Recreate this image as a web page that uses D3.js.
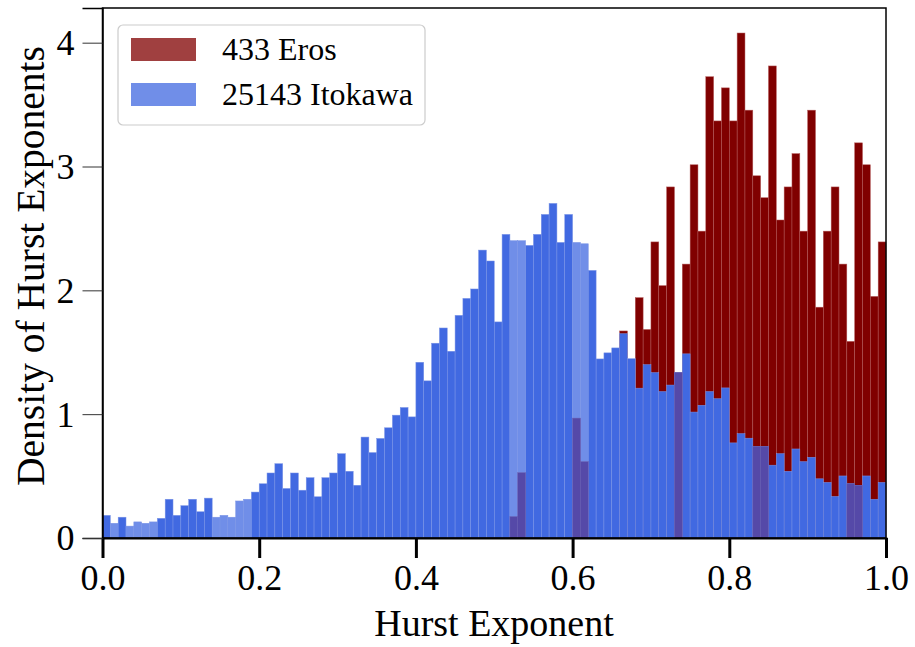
<!DOCTYPE html>
<html>
<head>
<meta charset="utf-8">
<script src="https://cdn.jsdelivr.net/npm/d3@7"></script>
<style>
  body { margin: 0; background: #fff; }
  text { font-family: "Liberation Serif", "Times New Roman", serif; }
</style>
</head>
<body>
<svg id="chart" width="915" height="647"></svg>
<script>
// bin edges: 100 bins of width 0.01 on [0, 1]
const binWidth = 0.01;

// density of Hurst exponents, 25143 Itokawa (bins 0..99)
const itokawa = [
  0.183, 0.119, 0.168, 0.096, 0.130, 0.119, 0.130, 0.159, 0.313, 0.183,
  0.261, 0.313, 0.212, 0.322, 0.168, 0.183, 0.168, 0.299, 0.313, 0.371,
  0.438, 0.525, 0.600, 0.400, 0.525, 0.386, 0.487, 0.333, 0.487, 0.525,
  0.681, 0.539, 0.426, 0.815, 0.690, 0.804, 0.890, 0.992, 1.054, 0.978,
  1.419, 1.269, 1.573, 1.696, 1.508, 1.798, 1.935, 2.011, 2.325, 2.237,
  1.745, 2.452, 2.401, 2.401, 2.363, 2.452, 2.613, 2.702, 2.387, 2.613,
  2.387, 2.376, 2.161, 1.446, 1.495, 1.535, 1.650, 1.448, 1.210, 1.400,
  1.336, 1.183, 1.235, 1.336, 1.487, 1.017, 1.072, 1.183, 1.125, 1.212,
  0.768, 0.843, 0.806, 0.739, 0.739, 0.588, 0.681, 0.539, 0.719, 0.617,
  0.652, 0.478, 0.449, 0.336, 0.501, 0.438, 0.426, 0.501, 0.313, 0.449
];

// density of Hurst exponents, 433 Eros (bins 0..99)
const eros = [
  0, 0, 0, 0, 0, 0, 0, 0, 0, 0,
  0, 0, 0, 0, 0, 0, 0, 0, 0, 0,
  0, 0, 0, 0, 0, 0, 0, 0, 0, 0,
  0, 0, 0, 0, 0, 0, 0, 0, 0, 0,
  0, 0, 0, 0, 0, 0, 0, 0, 0, 0,
  0, 0, 0.172, 0.527, 0, 0, 0, 0, 0, 0,
  0.968, 0.616, 0, 0, 0, 0, 1.672, 1.200, 1.941, 1.684,
  2.391, 2.038, 2.835, 1.336, 2.212, 3.014, 2.478, 3.725, 3.368, 3.635,
  3.368, 4.078, 3.455, 2.925, 2.748, 3.812, 2.568, 2.835, 3.104, 2.478,
  3.455, 1.864, 2.478, 2.835, 2.212, 1.588, 3.191, 3.014, 1.951, 2.391
];

// bins where only one Itokawa layer shows (lighter blue)
const itokawaFaintBins = [1, 3, 4, 5, 6, 14, 15, 16, 17, 18, 52, 53, 60, 61];
// bins where the Eros bar sits in front of the Itokawa bar
const erosFrontBins = [52, 53, 60, 61, 73, 83, 84, 95, 96];

const xTicks = [0, 0.2, 0.4, 0.6, 0.8, 1.0];
const yTicks = [0, 1, 2, 3, 4];
const seriesNames = ['433 Eros', '25143 Itokawa'];

const
  margin = {top: 8, right: 29, bottom: 109, left: 102.5},
  W = 915,
  H = 647,
  width = W - margin.left - margin.right,
  height = H - margin.top - margin.bottom
  ;

const svg = d3.select('#chart');
const g = svg.append('g').attr('transform', `translate(${margin.left},${margin.top})`);

const xScale = d3.scaleLinear().domain([0, 1]).range([0, width]);
const yScale = d3.scaleLinear().domain([0, 4.28]).range([height, 0]);

const toBins = arr => arr.map((v, i) => ({i: i, x0: i * binWidth, x1: (i + 1) * binWidth, value: v}));

const erosBins = toBins(eros);
const itoBins = toBins(itokawa);

const drawBars = (cls, data, fill, stroke, hOf) => {
  g.append('g').attr('class', cls)
    .selectAll('rect')
    .data(data)
    .join('rect')
    .attr('x', d => xScale(d.x0))
    .attr('width', d => xScale(d.x1) - xScale(d.x0))
    .attr('y', d => yScale(hOf(d)))
    .attr('height', d => yScale(0) - yScale(hOf(d)))
    .attr('fill', typeof fill === 'function' ? fill : () => fill)
    .attr('stroke', stroke)
    .attr('stroke-width', 0.5)
    ;
};

// Eros behind, Itokawa on top, then the few Eros bars that sit in front
drawBars('eros', erosBins.filter(d => d.value > 0), '#800000', '#b35a5a', d => d.value);
drawBars('itokawa', itoBins, d => itokawaFaintBins.includes(d.i) ? '#708ee8' : '#4169e1', '#7a94e6', d => d.value);
drawBars('eros-front',
  erosBins.filter(d => erosFrontBins.includes(d.i)),
  '#5549a8', '#6a5fb0',
  d => Math.min(d.value, itokawa[d.i]));

// frame
g.append('rect')
  .attr('x', 0).attr('y', 0)
  .attr('width', width).attr('height', height)
  .attr('fill', 'none')
  .attr('stroke', '#000')
  .attr('stroke-width', 1.5);

// axes
const axisX = d3.axisBottom(xScale).tickValues(xTicks).tickFormat(d3.format('.1f')).tickSize(20).tickPadding(6);
const axisY = d3.axisLeft(yScale).tickValues(yTicks).tickFormat(d3.format('d')).tickSize(20).tickPadding(8);

const gx = g.append('g').attr('transform', `translate(0,${height})`).call(axisX);
gx.select('.domain').attr('stroke', '#000').attr('stroke-width', 2);
gx.selectAll('.tick line').attr('stroke', '#000').attr('stroke-width', 3);
gx.selectAll('.tick text').attr('font-size', 36).attr('fill', '#000');

const gy = g.append('g').call(axisY);
gy.select('.domain').attr('stroke', '#000').attr('stroke-width', 1.5);
gy.selectAll('.tick line').attr('stroke', '#333').attr('stroke-width', 1);
gy.selectAll('.tick text').attr('font-size', 36).attr('fill', '#000').attr('dy', '0.33em');

// axis labels
svg.append('text')
  .attr('x', 494)
  .attr('y', 636)
  .attr('text-anchor', 'middle')
  .attr('font-size', 38)
  .text('Hurst Exponent');

svg.append('text')
  .attr('transform', `translate(${44},${266}) rotate(-90)`)
  .attr('text-anchor', 'middle')
  .attr('font-size', 39.5)
  .text('Density of Hurst Exponents');

// legend
const legend = svg.append('g').attr('transform', 'translate(118,25)');
legend.append('rect')
  .attr('width', 307).attr('height', 100)
  .attr('rx', 5).attr('ry', 5)
  .attr('fill', '#fff').attr('fill-opacity', 0.8)
  .attr('stroke', '#ccc').attr('stroke-width', 1.2);

const legendColors = ['#a04040', '#708ee8'];
seriesNames.forEach((name, i) => {
  const row = legend.append('g').attr('transform', `translate(13,${13 + i * 45})`);
  row.append('rect').attr('width', 65).attr('height', 23).attr('fill', legendColors[i]);
  row.append('text').attr('x', 91).attr('y', 22).attr('font-size', 32).attr('fill', '#000').text(name);
});
</script>
</body>
</html>
